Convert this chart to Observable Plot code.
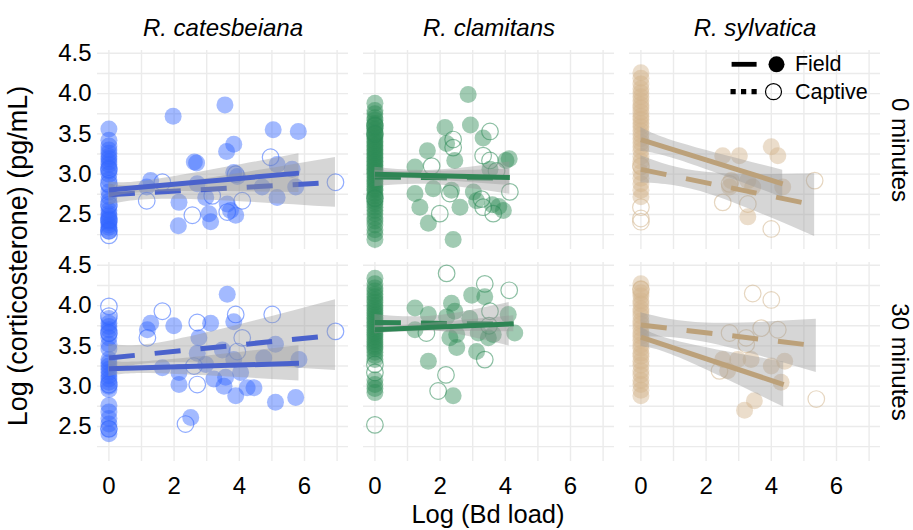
<!DOCTYPE html>
<html><head><meta charset="utf-8">
<script src="https://cdn.jsdelivr.net/npm/d3@7"></script>
<script src="https://cdn.jsdelivr.net/npm/@observablehq/plot@0.6"></script>
<style>html,body{margin:0;padding:0;background:#fff}svg{display:block}</style>
</head><body><div id="chart"></div>
<script>
// ---------- categories ----------
const species = ["R. catesbeiana", "R. clamitans", "R. sylvatica"];
const times = ["0 minutes", "30 minutes"];
const groups = ["Field", "Captive"];
const xTicks = [0, 2, 4, 6];
const xGrid = [0, 1, 2, 3, 4, 5, 6, 7];
const yTicks = [2.5, 3.0, 3.5, 4.0, 4.5];
const yGrid = [2.25, 2.5, 2.75, 3.0, 3.25, 3.5, 3.75, 4.0, 4.25, 4.5];
const pointColor = {"R. catesbeiana": "#3366FF", "R. clamitans": "#2E8B57", "R. sylvatica": "#D2B48C"};
const lineColor = {"R. catesbeiana": "#4a62cc", "R. clamitans": "#2e8554", "R. sylvatica": "#bca17a"};

// ---------- points [log Bd load, log corticosterone] ----------
const cates0Field = [[0,3.56],[0,3.42],[0,3.35],[0,3.30],[0,3.26],[0,3.22],[0,3.19],[0,3.15],[0,3.12],[0,3.08],[0,3.04],[0,3.00],[0,2.93],[0,2.86],[0,2.78],[0,2.72],[0,2.66],[0,2.60],[0,2.55],[0,2.51],[0,2.48],[0,2.45],[0,2.42],[0,2.40],[0,2.37],[0,2.34],[0,2.31],[0,2.29],
  [1.97,3.72],[3.56,3.86],[5.04,3.55],[5.81,3.53],[3.83,3.37],[3.61,3.28],[2.69,3.14],[2.62,3.15],[1.28,2.92],[1.16,2.84],[3.83,3.02],[3.94,2.97],[2.71,2.88],[5.16,3.12],[5.62,3.06],[5.73,2.84],[4.70,2.84],[5.16,2.71],[2.15,2.65],[2.97,2.71],[3.63,2.63],[3.73,2.55],[3.89,2.49],[3.12,2.41],[2.13,2.36],[3.07,2.51]];
const cates0Captive = [[0,2.24],[0,2.30],[0,2.43],[0,2.62],[0,2.88],[0,3.06],
  [6.95,2.90],[4.96,3.21],[1.64,2.90],[1.16,2.67],[2.56,2.49],[3.17,2.73],[4.09,2.67],[3.63,2.53],[3.89,3.00]];
const clam0Field = [[0,3.88],[0,3.79],[0,3.75],[0,3.70],[0,3.67],[0,3.63],[0,3.61],[0,3.57],[0,3.55],[0,3.51],[0,3.49],[0,3.46],[0,3.44],[0,3.41],[0,3.39],[0,3.36],[0,3.34],[0,3.31],[0,3.29],[0,3.26],[0,3.24],[0,3.21],[0,3.19],[0,3.16],[0,3.14],[0,3.11],[0,3.09],[0,3.06],[0,3.04],[0,3.01],[0,2.99],[0,2.96],[0,2.93],[0,2.91],[0,2.88],[0,2.85],[0,2.82],[0,2.80],[0,2.76],[0,2.73],[0,2.70],[0,2.66],[0,2.63],[0,2.59],[0,2.55],[0,2.51],[0,2.46],[0,2.42],[0,2.37],[0,2.31],[0,2.26],[0,2.19],
  [2.86,3.99],[2.15,3.58],[2.93,3.61],[3.32,3.45],[1.61,3.29],[2.45,3.17],[4.12,3.19],[4.02,3.17],[1.23,3.09],[1.23,2.76],[1.38,2.59],[1.64,2.39],[2.40,2.19],[1.79,2.82],[2.61,2.59],[3.94,2.55],[3.12,2.67],[3.02,2.78],[2.35,2.80],[3.53,3.06],[2.20,3.38],[3.60,2.62],[3.80,2.60]];
const clam0Captive = [[0,3.60],[0,3.50],[0,2.70],
  [3.53,3.53],[2.40,3.43],[2.40,3.33],[3.32,3.23],[3.53,3.17],[1.74,3.10],[4.14,2.78],[2.30,2.76],[1.99,2.51],[3.27,2.69],[3.32,2.59],[3.63,2.51],[3.73,3.04]];
const sylv0Field = [[0,4.26],[0,4.19],[0,4.12],[0,4.06],[0,4.01],[0,3.96],[0,3.91],[0,3.86],[0,3.82],[0,3.77],[0,3.72],[0,3.68],[0,3.63],[0,3.59],[0,3.54],[0,3.49],[0,3.44],[0,3.39],[0,3.34],[0,3.29],[0,3.22],[0,3.16],[0,3.09],[0,3.02],[0,2.95],[0,2.88],[0,2.80],[0,2.72],
  [4.00,3.34],[4.20,3.23],[3.02,3.23],[2.51,3.23],[2.77,2.92],[3.28,2.92],[3.43,2.84],[3.28,2.47],[4.35,2.84],[2.72,2.84]];
const sylv0Captive = [[0,2.59],[0,2.45],[0,2.41],[0,3.10],
  [5.33,2.92],[2.51,2.65],[3.28,2.63],[4.00,2.32],[2.72,2.88]];
const cates30Field = [[0,3.84],[0,3.78],[0,3.74],[0,3.70],[0,3.65],[0,3.60],[0,3.52],[0,3.46],[0,3.33],[0,3.29],[0,3.25],[0,3.21],[0,3.17],[0,3.13],[0,3.09],[0,3.05],[0,3.00],[0,2.96],[0,2.76],[0,2.68],[0,2.60],[0,2.53],[0,2.47],[0,2.41],
  [3.63,4.14],[3.83,3.80],[3.12,3.78],[1.99,3.75],[1.28,3.78],[1.18,3.70],[2.76,3.60],[2.71,3.41],[3.48,3.45],[3.83,3.33],[4.75,3.35],[5.11,3.52],[5.83,3.33],[1.64,3.23],[2.15,3.17],[2.97,3.27],[4.04,3.17],[3.22,3.09],[3.58,3.11],[2.15,3.02],[3.53,3.00],[4.24,2.98],[4.45,2.98],[3.89,2.88],[5.11,2.80],[5.73,2.86],[2.51,2.61]];
const cates30Captive = [[0,3.99],[0,3.87],[0,3.66],[0,3.02],[0,2.47],
  [6.95,3.68],[5.01,3.89],[3.89,3.89],[2.71,3.79],[1.64,3.93],[1.18,3.60],[4.09,3.60],[3.94,3.43],[2.71,3.02],[2.35,2.53],[2.61,3.25]];
const clam30Field = [[0,4.34],[0,4.27],[0,4.22],[0,4.18],[0,4.14],[0,4.11],[0,4.07],[0,4.04],[0,4.00],[0,3.97],[0,3.94],[0,3.91],[0,3.88],[0,3.85],[0,3.82],[0,3.79],[0,3.76],[0,3.73],[0,3.70],[0,3.67],[0,3.64],[0,3.61],[0,3.58],[0,3.55],[0,3.52],[0,3.49],[0,3.46],[0,3.42],[0,3.38],[0,3.33],[0,3.08],[0,3.02],[0,2.97],[0,2.92],
  [2.97,4.13],[3.37,4.11],[2.35,4.03],[1.23,3.97],[1.64,3.89],[2.45,3.93],[2.20,3.86],[4.09,3.89],[4.29,3.66],[1.23,3.70],[2.51,3.64],[2.30,3.60],[3.17,3.66],[3.48,3.60],[3.63,3.64],[2.51,3.48],[3.12,3.43],[1.64,3.31],[2.40,2.88],[2.91,3.84]];
const clam30Captive = [[0,2.52],[0,3.27],[0,3.17],
  [2.20,4.40],[3.37,4.27],[4.12,4.19],[3.53,3.93],[1.58,3.66],[3.37,3.33],[2.18,3.14],[1.94,2.94],[3.50,3.75]];
const sylv30Field = [[0,4.27],[0,4.21],[0,4.16],[0,4.12],[0,4.06],[0,4.02],[0,3.96],[0,3.92],[0,3.87],[0,3.81],[0,3.77],[0,3.72],[0,3.66],[0,3.62],[0,3.57],[0,3.51],[0,3.47],[0,3.41],[0,3.37],[0,3.31],[0,3.26],[0,3.19],[0,3.14],[0,3.07],[0,3.02],[0,2.95],[0,2.88],
  [2.51,3.33],[2.97,3.33],[3.38,3.33],[4.00,3.25],[4.41,3.31],[2.66,3.19],[4.30,3.05],[3.48,2.82],[3.18,2.70]];
const sylv30Captive = [[0,4.20],
  [3.43,4.15],[4.00,4.07],[3.69,3.72],[4.20,3.70],[2.72,3.66],[3.23,3.60],[3.23,3.52],[5.38,2.84],[2.41,3.19]];

// ---------- fitted lines ----------
const fitSpecies = ["R. catesbeiana","R. catesbeiana","R. clamitans","R. clamitans","R. sylvatica","R. sylvatica","R. catesbeiana","R. catesbeiana","R. clamitans","R. clamitans","R. sylvatica","R. sylvatica"];
const fitTime = ["0 minutes","0 minutes","0 minutes","0 minutes","0 minutes","0 minutes","30 minutes","30 minutes","30 minutes","30 minutes","30 minutes","30 minutes"];
const fitGroup = ["Field","Captive","Field","Captive","Field","Captive","Field","Captive","Field","Captive","Field","Captive"];
const fitXmax = [5.83, 6.95, 4.14, 4.14, 4.35, 5.33, 5.83, 6.95, 4.26, 4.12, 4.38, 5.38];
const fitY0 = [2.804, 2.746, 3.00, 2.965, 3.43, 3.06, 3.217, 3.35, 3.70, 3.79, 3.61, 3.76];
const fitY1 = [3.013, 2.898, 2.96, 2.95, 2.88, 2.616, 3.283, 3.633, 3.775, 3.77, 3.02, 3.50];
const ciXmid = [1.5, 2.0, 1.2, 1.8, 1.2, 2.0, 1.5, 2.0, 1.2, 1.8, 1.2, 2.0];
const ciHalf0 = [0.10, 0.13, 0.05, 0.12, 0.15, 0.17, 0.10, 0.17, 0.05, 0.10, 0.12, 0.15];
const ciHalfMid = [0.08, 0.10, 0.045, 0.09, 0.11, 0.13, 0.08, 0.14, 0.045, 0.09, 0.10, 0.12];
const ciHalf1 = [0.24, 0.31, 0.10, 0.20, 0.17, 0.39, 0.22, 0.44, 0.10, 0.27, 0.28, 0.33];

// ---------- build tables ----------
const pointSets = [
  ["R. catesbeiana","0 minutes","Field",cates0Field],["R. catesbeiana","0 minutes","Captive",cates0Captive],
  ["R. clamitans","0 minutes","Field",clam0Field],["R. clamitans","0 minutes","Captive",clam0Captive],
  ["R. sylvatica","0 minutes","Field",sylv0Field],["R. sylvatica","0 minutes","Captive",sylv0Captive],
  ["R. catesbeiana","30 minutes","Field",cates30Field],["R. catesbeiana","30 minutes","Captive",cates30Captive],
  ["R. clamitans","30 minutes","Field",clam30Field],["R. clamitans","30 minutes","Captive",clam30Captive],
  ["R. sylvatica","30 minutes","Field",sylv30Field],["R. sylvatica","30 minutes","Captive",sylv30Captive]
];
const points = pointSets.flatMap(([s,t,g,pts]) => pts.map(([x,y]) => ({species:s, time:t, group:g, x, y})));

const lineRows = [], ribbonRows = [];
fitSpecies.forEach((s, i) => {
  const key = s + "|" + fitTime[i] + "|" + fitGroup[i];
  const slope = (fitY1[i] - fitY0[i]) / fitXmax[i];
  const at = x => fitY0[i] + slope * x;
  const base = {species: s, time: fitTime[i], group: fitGroup[i], key};
  lineRows.push({...base, x: 0, y: fitY0[i]}, {...base, x: fitXmax[i], y: fitY1[i]});
  [[0, ciHalf0[i]], [ciXmid[i], ciHalfMid[i]], [fitXmax[i], ciHalf1[i]]].forEach(([x, h]) => {
    ribbonRows.push({...base, x, lo: at(x) - h, hi: at(x) + h});
  });
});

const isF = d => d.group === "Field", isC = d => d.group === "Captive";
const solidKey = {draw(ctx) { ctx.rect(-12.5, -2.4, 25, 4.8); }};
const dashKey = {draw(ctx) { for (const o of [-16, -5.5, 5]) ctx.rect(o, -2.6, 5.2, 5.2); }};
const legendField = [{species: "R. sylvatica", time: "0 minutes", label: groups[0]}];
const legendCaptive = [{species: "R. sylvatica", time: "0 minutes", label: groups[1]}];
const font = "'Liberation Sans', Arial, Helvetica, sans-serif";

const chart = Plot.plot({
  width: 913, height: 530,
  marginLeft: 96, marginRight: 32.4, marginTop: 49.5, marginBottom: 67.5,
  style: {fontFamily: font, color: "black", background: "white", overflow: "visible"},
  fx: {domain: species, paddingInner: 0.058, paddingOuter: 0, axis: null},
  fy: {domain: times, paddingInner: 0.061, paddingOuter: 0, axis: null},
  x: {domain: [-0.35, 7.35]},
  y: {domain: [2.065, 4.535]},
  color: {type: "identity"},
  marks: [
    Plot.gridX({ticks: xGrid, stroke: "#ebebeb", strokeOpacity: 1, strokeWidth: 1.4}),
    Plot.gridY({ticks: yGrid, stroke: "#ebebeb", strokeOpacity: 1, strokeWidth: 1.4}),
    Plot.axisX({ticks: xTicks, tickSize: 0, tickPadding: 15, fontSize: 24, label: null, fill: "black"}),
    Plot.axisY({ticks: yTicks, tickFormat: d3.format(".1f"), tickSize: 0, tickPadding: 6, fontSize: 24, label: null, fill: "black"}),
    Plot.dot(points.filter(isF), {x: "x", y: "y", fx: "species", fy: "time", r: 8.5, fill: d => pointColor[d.species], fillOpacity: 0.45, stroke: null}),
    Plot.dot(points.filter(isC), {x: "x", y: "y", fx: "species", fy: "time", r: 8.3, fill: "none", stroke: d => pointColor[d.species], strokeOpacity: 0.55, strokeWidth: 1.2}),
    Plot.area(ribbonRows.filter(isC), {x1: "x", y1: "lo", y2: "hi", z: "key", fx: "species", fy: "time", fill: "#999999", fillOpacity: 0.4, curve: "natural"}),
    Plot.line(lineRows.filter(isC), {x: "x", y: "y", z: "key", fx: "species", fy: "time", stroke: d => lineColor[d.species], strokeWidth: 5, strokeDasharray: "26,20", strokeLinecap: "butt"}),
    Plot.area(ribbonRows.filter(isF), {x1: "x", y1: "lo", y2: "hi", z: "key", fx: "species", fy: "time", fill: "#999999", fillOpacity: 0.4, curve: "natural"}),
    Plot.line(lineRows.filter(isF), {x: "x", y: "y", z: "key", fx: "species", fy: "time", stroke: d => lineColor[d.species], strokeWidth: 5, strokeLinecap: "butt"}),
    // strip labels
    Plot.text(species.map(s => ({species: s, time: times[0]})), {fx: "species", fy: "time", text: "species", frameAnchor: "top", dy: -22, fontSize: 24, fontStyle: "italic", fill: "black", textAnchor: "middle", lineAnchor: "middle"}),
    Plot.text(times.map(t => ({species: species[2], time: t})), {fx: "species", fy: "time", text: "time", frameAnchor: "right", dx: 19.5, rotate: 90, fontSize: 24, fill: "black", textAnchor: "middle", lineAnchor: "middle"}),
    // legend
    Plot.dot(legendField, {fx: "species", fy: "time", frameAnchor: "top-right", dx: -136.4, dy: 13.8, symbol: solidKey, fill: "black", stroke: null}),
    Plot.dot(legendField, {fx: "species", fy: "time", frameAnchor: "top-right", dx: -104, dy: 13.8, r: 8, fill: "black", stroke: null}),
    Plot.dot(legendCaptive, {fx: "species", fy: "time", frameAnchor: "top-right", dx: -134, dy: 41.2, symbol: dashKey, fill: "black", stroke: null}),
    Plot.dot(legendCaptive, {fx: "species", fy: "time", frameAnchor: "top-right", dx: -107, dy: 41.2, r: 8, fill: "none", stroke: "black", strokeWidth: 1.2}),
    Plot.text(legendField, {fx: "species", fy: "time", text: "label", frameAnchor: "top-right", dx: -85.6, dy: 13.8, textAnchor: "start", lineAnchor: "middle", fontSize: 21.5, fill: "black"}),
    Plot.text(legendCaptive, {fx: "species", fy: "time", text: "label", frameAnchor: "top-right", dx: -85.6, dy: 41.2, textAnchor: "start", lineAnchor: "middle", fontSize: 21.5, fill: "black"})
  ]
});
document.getElementById("chart").appendChild(chart);

// axis titles
const svg = d3.select(chart);
svg.append("text").attr("x", 488).attr("y", 514.5).attr("dy", "0.35em").attr("text-anchor", "middle")
  .attr("font-family", font).attr("font-size", 25.5).attr("fill", "black").text("Log (Bd load)");
svg.append("text").attr("transform", "translate(18,256) rotate(-90)").attr("dy", "0.35em").attr("text-anchor", "middle")
  .attr("font-family", font).attr("font-size", 27).attr("fill", "black").text("Log (corticosterone) (pg/mL)");
</script></body></html>
